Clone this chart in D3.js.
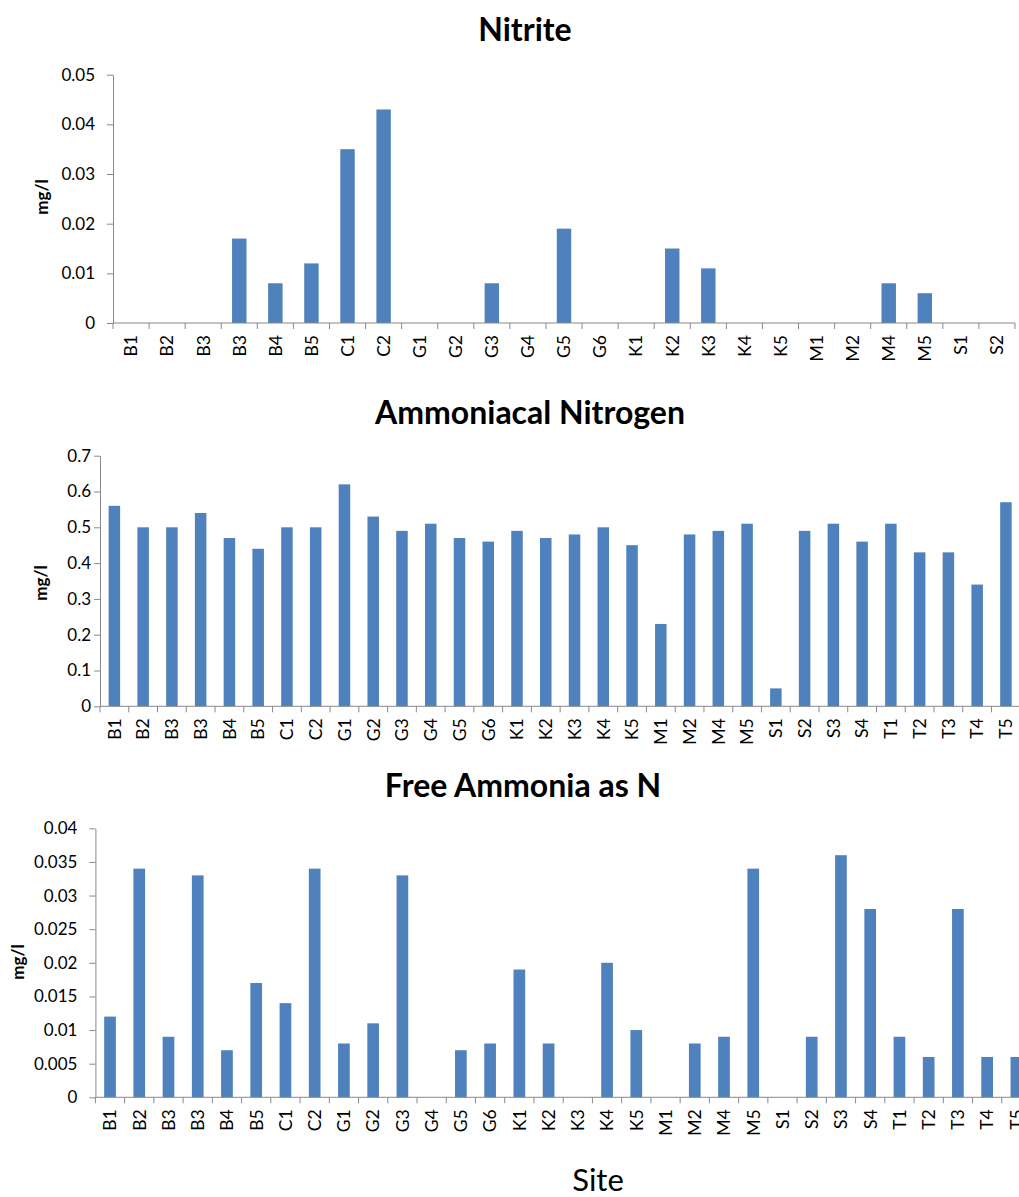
<!DOCTYPE html>
<html>
<head>
<meta charset="utf-8">
<script src="https://cdn.jsdelivr.net/npm/d3@7"></script>
<style>
  html, body { margin: 0; padding: 0; background: #fff; }
  svg { display: block; font-family: Lato, "Open Sans", sans-serif; }
</style>
</head>
<body>
<svg id="chart" width="1019" height="1197"></svg>
<script>
// Site codes
const nitriteSites = ["B1","B2","B3","B3","B4","B5","C1","C2","G1","G2","G3","G4","G5","G6",
  "K1","K2","K3","K4","K5","M1","M2","M4","M5","S1","S2"];
const ammoniaSites = ["B1","B2","B3","B3","B4","B5","C1","C2","G1","G2","G3","G4","G5","G6",
  "K1","K2","K3","K4","K5","M1","M2","M4","M5","S1","S2","S3","S4","T1","T2","T3","T4","T5"];

// Measured concentrations (mg/l)
const nitriteValues = [0,0,0,0.017,0.008,0.012,0.035,0.043,0,0,0.008,0,0.019,0,
  0,0.015,0.011,0,0,0,0,0.008,0.006,0,0];
const ammoniacalValues = [0.56,0.50,0.50,0.54,0.47,0.44,0.50,0.50,0.62,0.53,0.49,0.51,0.47,0.46,
  0.49,0.47,0.48,0.50,0.45,0.23,0.48,0.49,0.51,0.05,0.49,0.51,0.46,0.51,0.43,0.43,0.34,0.57];
const freeAmmoniaValues = [0.012,0.034,0.009,0.033,0.007,0.017,0.014,0.034,0.008,0.011,0.033,0,0.007,0.008,
  0.019,0.008,0,0.020,0.010,0,0.008,0.009,0.034,0,0.009,0.036,0.028,0.009,0.006,0.028,0.006,0.006];

// Y-axis ticks and their labels
const nitriteTicks = [0,0.01,0.02,0.03,0.04,0.05];
const nitriteTickLabels = ["0","0.01","0.02","0.03","0.04","0.05"];
const ammoniacalTicks = [0,0.1,0.2,0.3,0.4,0.5,0.6,0.7];
const ammoniacalTickLabels = ["0","0.1","0.2","0.3","0.4","0.5","0.6","0.7"];
const freeAmmoniaTicks = [0,0.005,0.01,0.015,0.02,0.025,0.03,0.035,0.04];
const freeAmmoniaTickLabels = ["0","0.005","0.01","0.015","0.02","0.025","0.03","0.035","0.04"];

const titles = ["Nitrite", "Ammoniacal Nitrogen", "Free Ammonia as N"];
const yTitle = "mg/l";
const xTitle = "Site";

// Panel geometry
const panels = [
  { title: titles[0], sites: nitriteSites, values: nitriteValues, ticks: nitriteTicks, labels: nitriteTickLabels,
    x0: 113, x1: 1015, yTop: 74.7, yBase: 323, titleX: 525, titleY: 41, yLabX: 42, yLabY: 197, pad: 12 },
  { title: titles[1], sites: ammoniaSites, values: ammoniacalValues, ticks: ammoniacalTicks, labels: ammoniacalTickLabels,
    x0: 100, x1: 1020.3, yTop: 455.7, yBase: 706.3, titleX: 530, titleY: 424, yLabX: 41, yLabY: 583, pad: 3 },
  { title: titles[2], sites: ammoniaSites, values: freeAmmoniaValues, ticks: freeAmmoniaTicks, labels: freeAmmoniaTickLabels,
    x0: 95.4, x1: 1031, yTop: 828.3, yBase: 1097.3, titleX: 523, titleY: 797, yLabX: 18, yLabY: 962, pad: 12 }
];

const axisColor = "#898989";
const barColor = "#4f81bd";
const svg = d3.select("#chart");

panels.forEach(p => {
  const g = svg.append("g");
  const idx = d3.range(p.sites.length);

  const x = d3.scaleBand().domain(idx).range([p.x0, p.x1]).paddingInner(0.6).paddingOuter(0.3);
  const y = d3.scaleLinear().domain([0, d3.max(p.ticks)]).range([p.yBase, p.yTop]);

  // bars
  g.append("g").selectAll("rect")
    .data(p.values)
    .join("rect")
    .attr("x", (d, i) => x(i))
    .attr("width", x.bandwidth())
    .attr("y", d => y(d))
    .attr("height", d => y(0) - y(d))
    .attr("fill", barColor);

  // y axis
  const yAxis = d3.axisLeft(y)
    .tickValues(p.ticks)
    .tickFormat((d, i) => p.labels[i])
    .tickSizeInner(6).tickSizeOuter(0).tickPadding(p.pad);
  const ya = g.append("g").attr("transform", `translate(${p.x0},0)`).call(yAxis);
  ya.select(".domain").attr("stroke", axisColor);
  ya.selectAll(".tick line").attr("stroke", axisColor);
  ya.selectAll(".tick text").attr("fill", "#000").style("font-size", "17px").style("font-family", "Lato, sans-serif");

  // x axis baseline and category boundary ticks
  const step = x.step();
  const boundaries = d3.range(p.sites.length + 1).map(i => p.x0 + i * step);
  g.append("line")
    .attr("x1", p.x0).attr("x2", p.x1)
    .attr("y1", y(0)).attr("y2", y(0))
    .attr("stroke", axisColor);
  g.append("g").selectAll("line")
    .data(boundaries)
    .join("line")
    .attr("x1", d => d).attr("x2", d => d)
    .attr("y1", y(0)).attr("y2", y(0) + 6)
    .attr("stroke", axisColor);

  // rotated site labels
  g.append("g").selectAll("text")
    .data(p.sites)
    .join("text")
    .attr("transform", (d, i) => `translate(${x(i) + x.bandwidth() / 2},${y(0) + 12}) rotate(-90)`)
    .attr("text-anchor", "end")
    .attr("dy", "0.36em")
    .style("font-size", "17.5px")
    .text(d => d);

  // panel title
  g.append("text")
    .attr("x", p.titleX).attr("y", p.titleY)
    .attr("text-anchor", "middle")
    .style("font-size", "32px").style("font-weight", "bold")
    .text(p.title);

  // y title
  g.append("text")
    .attr("transform", `translate(${p.yLabX},${p.yLabY}) rotate(-90)`)
    .attr("text-anchor", "middle")
    .attr("dy", "0.35em")
    .style("font-size", "17px").style("font-weight", "bold")
    .text(yTitle);
});

// shared x title
svg.append("text")
  .attr("x", 598).attr("y", 1191)
  .attr("text-anchor", "middle")
  .style("font-size", "31px")
  .text(xTitle);
</script>
</body>
</html>
